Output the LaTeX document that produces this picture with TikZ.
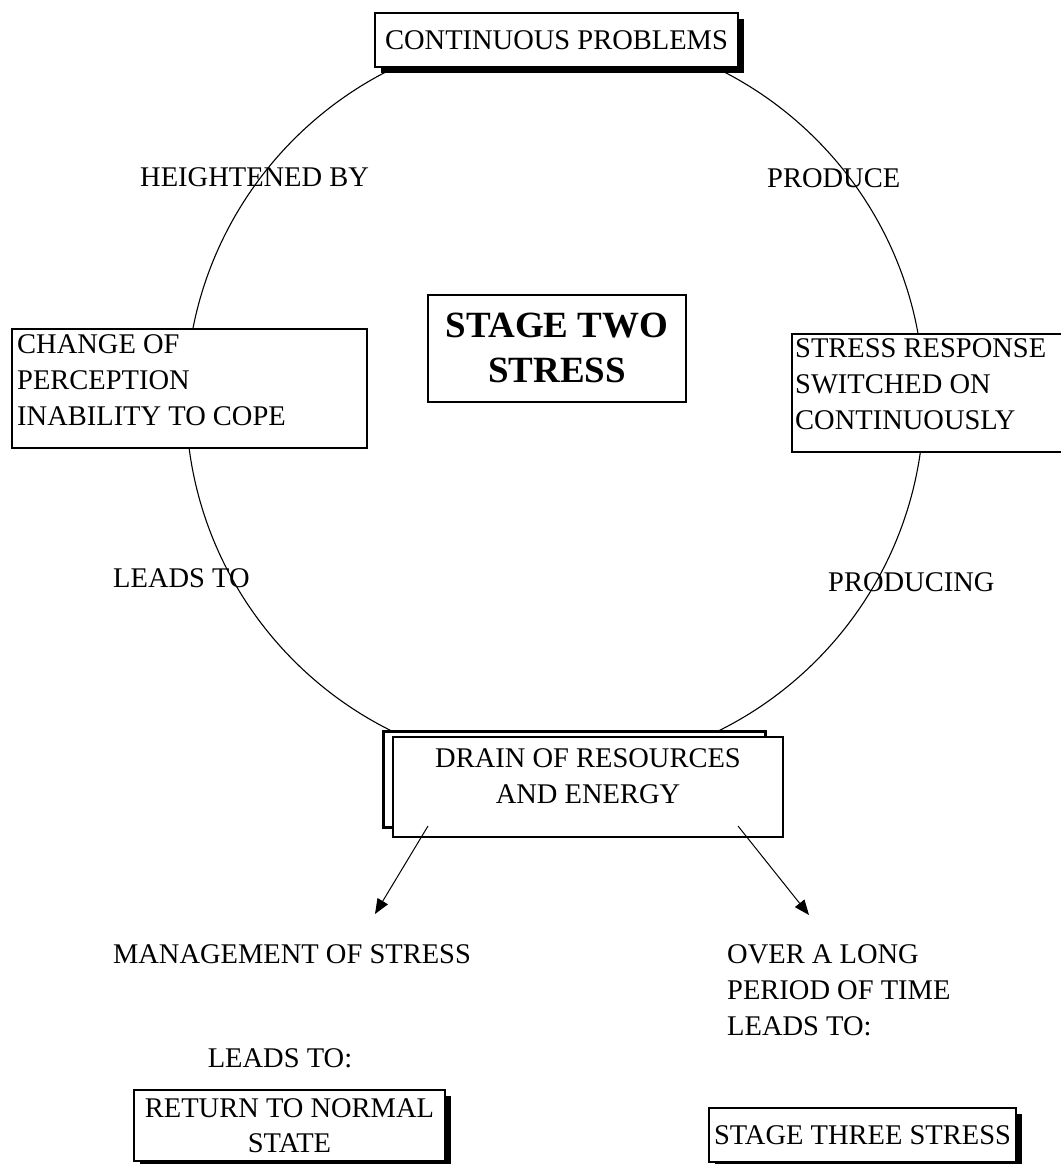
\documentclass[tikz,border=0pt]{standalone}
\usepackage{fontspec}
\setmainfont{Liberation Serif}
\usetikzlibrary{arrows.meta,shadows}
\begin{document}
\begin{tikzpicture}[x=1pt,y=-1pt,
  txt/.style={inner sep=0pt, font=\fontsize{28.5}{36}\selectfont},
  box/.style={draw=black, line width=1.1pt, fill=white, inner sep=0pt, font=\fontsize{28.5}{35}\selectfont},
  shbox/.style={box, drop shadow={shadow xshift=6pt, shadow yshift=-6pt, fill=black, opacity=1}},
  bigtxt/.style={inner sep=0pt, font=\fontsize{37}{45}\bfseries\selectfont, align=center},
  arr/.style={line width=1pt, -{Triangle[length=15pt,width=12pt]}},
  ring/.style={line width=1.1pt}]
\fill[white] (0,0) rectangle (1060,1164);
\useasboundingbox (0,0) rectangle (1060,1164);

% the cycle
\draw[ring] (555,400) circle[radius=369pt];

% labels on the cycle
\node[txt, anchor=base west] (heightened) at (140,186) {HEIGHTENED BY};
\node[txt, anchor=base west] (produce) at (767,187) {PRODUCE};
\node[txt, anchor=base west] (leadsto) at (113,587) {LEADS TO};
\node[txt, anchor=base west] (producing) at (828,591) {PRODUCING};

% top box
\node[shbox, minimum width=363pt, minimum height=54pt] (cont) at (556.5,40) {CONTINUOUS PROBLEMS};

% left box
\node[box, minimum width=355pt, minimum height=119pt] (change) at (189.5,388.5) {};
\node[txt, anchor=north west, align=left] (changetxt) at (17,334) {CHANGE OF\\PERCEPTION\\INABILITY TO COPE};

% right box
\node[box, minimum width=278pt, minimum height=118pt] (resp) at (931,393) {};
\node[txt, anchor=north west, align=left] (resptxt) at (795,338.5) {STRESS RESPONSE\\SWITCHED ON\\CONTINUOUSLY};

% centre box
\node[box, minimum width=258pt, minimum height=107pt] (stage) at (557,348.5) {};
\node[bigtxt] (stagetxt) at (557,348) {STAGE TWO\\STRESS};

% drain boxes
\node[box, line width=3pt, minimum width=382pt, minimum height=96pt] (drainback) at (574,779) {};
\node[box, minimum width=390pt, minimum height=100pt] (drain) at (588,787) {};
\node[txt, anchor=north, align=center] (draintxt) at (588,748) {DRAIN OF RESOURCES\\AND ENERGY};

% arrows
\coordinate (l1) at (428,826);
\coordinate (l2) at (375,914);
\coordinate (r1) at (738,826);
\coordinate (r2) at (809,915);
\draw[arr] (l1) -- (l2);
\draw[arr] (r1) -- (r2);

% left branch
\node[txt, anchor=base] (manage) at (292,963) {MANAGEMENT OF STRESS};
\node[txt, anchor=base] (leadsl) at (280,1067) {LEADS TO:};
\node[shbox, align=center, minimum width=311pt, minimum height=71pt] (ret) at (289.5,1125.5) {RETURN TO NORMAL\\STATE};

% right branch
\node[txt, anchor=north west, align=left] (over) at (727,944) {OVER A LONG\\PERIOD OF TIME\\LEADS TO:};
\node[shbox, minimum width=307pt, minimum height=54pt] (three) at (862.5,1135) {STAGE THREE STRESS};
\end{tikzpicture}
\end{document}
